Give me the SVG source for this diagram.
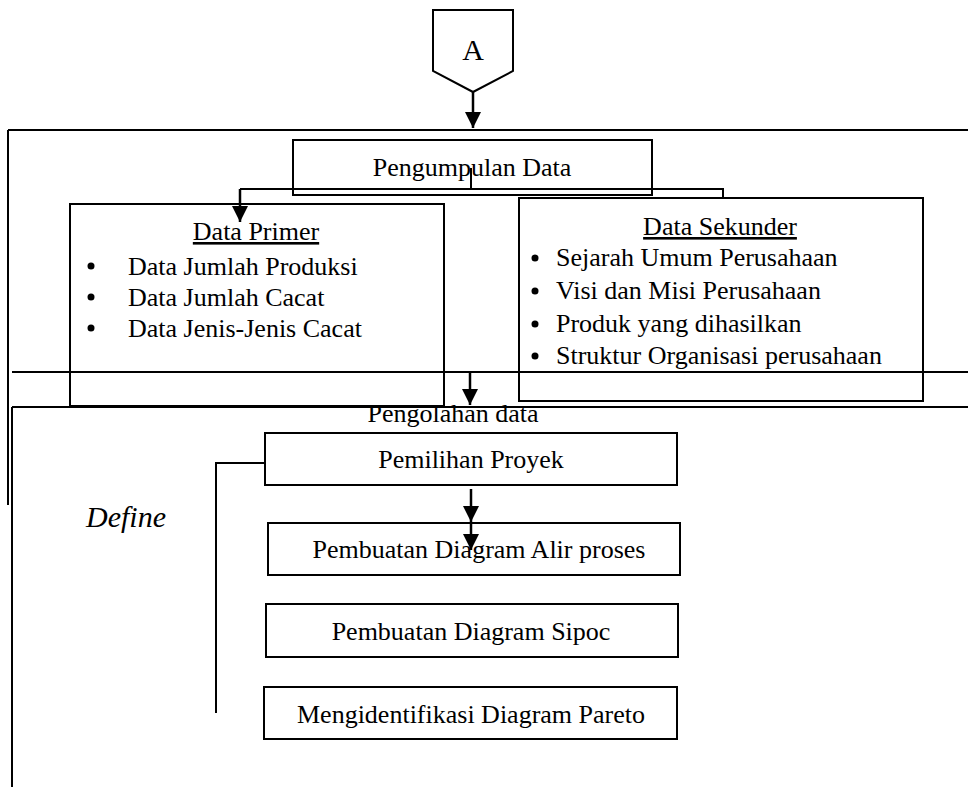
<svg xmlns="http://www.w3.org/2000/svg" width="968" height="787" viewBox="0 0 968 787">
<style>
.box{fill:none;stroke:#000;stroke-width:2}
.ln{fill:none;stroke:#000;stroke-width:2}
.arr{fill:none;stroke:#000;stroke-width:2.5;marker-end:url(#ah)}
.t{font-family:"Liberation Serif","Times New Roman",serif;font-size:26px;fill:#000}
.c{text-anchor:middle}
.u{text-decoration:underline}
</style>
<defs>
<marker id="ah" markerUnits="userSpaceOnUse" markerWidth="16" markerHeight="16" refX="16" refY="8" orient="auto">
<path d="M0,0 L16,8 L0,16 z" fill="#000"/>
</marker>
</defs>
<rect width="968" height="787" fill="#fff"/>
<g id="frames">
<path class="ln" d="M8,130 H968 M8,130 V505"/>
<path class="ln" d="M12,372 H968"/>
<path class="ln" d="M12,407 H968 M12,407 V787"/>
</g>
<g id="nodeA">
<polygon class="box" points="433,10 513,10 513,71 473,92 433,71"/>
<text class="t c" x="473" y="60" style="font-size:30px">A</text>
</g>
<g id="pengumpulan">
<rect class="box" x="293" y="140" width="359" height="55"/>
<text class="t c" x="472" y="176">Pengumpulan Data</text>
</g>
<g id="primer">
<rect class="box" x="70" y="204" width="374" height="202"/>
<text class="t c u" x="256" y="240">Data Primer</text>
<circle cx="91" cy="266" r="3.5"/><text class="t" x="128" y="275">Data Jumlah Produksi</text>
<circle cx="91" cy="297" r="3.5"/><text class="t" x="128" y="306">Data Jumlah Cacat</text>
<circle cx="91" cy="328" r="3.5"/><text class="t" x="128" y="337">Data Jenis-Jenis Cacat</text>
</g>
<g id="sekunder">
<rect class="box" x="519" y="198" width="404" height="203"/>
<text class="t c u" x="720" y="235">Data Sekunder</text>
<circle cx="535" cy="258" r="3.5"/><text class="t" x="556" y="266">Sejarah Umum Perusahaan</text>
<circle cx="535" cy="291" r="3.5"/><text class="t" x="556" y="299">Visi dan Misi Perusahaan</text>
<circle cx="535" cy="324" r="3.5"/><text class="t" x="556" y="332">Produk yang dihasilkan</text>
<circle cx="535" cy="356" r="3.5"/><text class="t" x="556" y="364">Struktur Organisasi perusahaan</text>
</g>
<g id="pengolahan">
<text class="t c" x="453" y="422">Pengolahan data</text>
</g>
<g id="define">
<text class="t" x="86" y="527" style="font-size:30px;font-style:italic">Define</text>
</g>
<g id="pemilihan">
<rect class="box" x="265" y="433" width="412" height="52"/>
<text class="t c" x="471" y="468">Pemilihan Proyek</text>
</g>
<g id="alir">
<rect class="box" x="268" y="523" width="412" height="52"/>
<text class="t c" x="479" y="558">Pembuatan Diagram Alir proses</text>
</g>
<g id="sipoc">
<rect class="box" x="266" y="604" width="412" height="53"/>
<text class="t c" x="471" y="640">Pembuatan Diagram Sipoc</text>
</g>
<g id="pareto">
<rect class="box" x="264" y="687" width="413" height="52"/>
<text class="t c" x="471" y="723">Mengidentifikasi Diagram Pareto</text>
</g>
<g id="connectors">
<path class="arr" d="M473,92 V128"/>
<path class="ln" d="M471,168 V189 M240,189 H723 V198"/>
<path class="arr" d="M240,189 V222"/>
<path class="arr" d="M470,372 V405"/>
<path class="ln" d="M265,463 H216 V713"/>
<path class="arr" d="M471,489 V522"/>
<path class="arr" d="M471,522 V550"/>
</g>
</svg>
